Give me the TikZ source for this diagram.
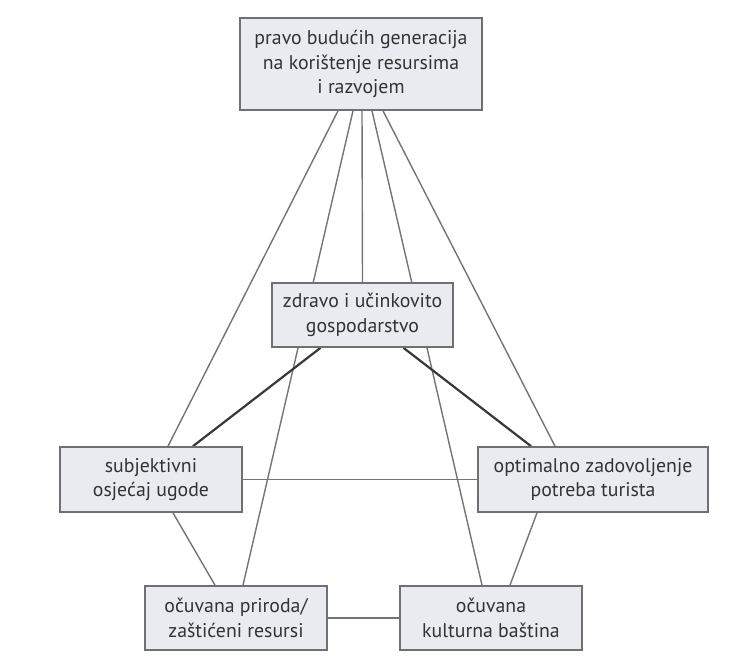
\documentclass[tikz,border=0pt]{standalone}
\usepackage{fontspec}
\setsansfont{PT Sans}
\usetikzlibrary{backgrounds}
\definecolor{boxfill}{HTML}{E9EBF1}
\definecolor{boxline}{HTML}{6E7074}
\definecolor{linkgray}{HTML}{747474}
\definecolor{textgray}{HTML}{333333}
\begin{document}
\begin{tikzpicture}[x=1pt,y=-1pt,
    box/.style={draw=boxline,line width=1.7pt,fill=boxfill,inner sep=2pt,
      align=center,text=textgray,font=\sffamily\fontsize{19.8}{24.5}\selectfont},
    link/.style={draw=linkgray,line width=1.4pt},
    strong link/.style={draw=black!78,line width=2.2pt}]
  \useasboundingbox (0,0) rectangle (750,670);

  \node[box,minimum width=242pt,minimum height=92pt] (buduce) at (361,64)
    {pravo budućih generacija\\na korištenje resursima\\i razvojem};
  \node[box,minimum width=181pt,minimum height=64pt] (gosp) at (362.5,315)
    {zdravo i učinkovito\\gospodarstvo};
  \node[box,minimum width=182pt,minimum height=65pt] (subj) at (151,479.5)
    {subjektivni\\osjećaj ugode};
  \node[box,minimum width=230pt,minimum height=65pt] (optim) at (593,479.5)
    {optimalno zadovoljenje\\potreba turista};
  \node[box,minimum width=182pt,minimum height=64pt] (priroda) at (236,618)
    {očuvana priroda/\\zaštićeni resursi};
  \node[box,minimum width=182pt,minimum height=64pt] (bastina) at (491,618)
    {očuvana\\kulturna baština};

  \begin{scope}[on background layer]
    % lines from the top box
    \draw[link] ([xshift=-23pt]buduce.south) -- ([xshift=17pt]subj.north);
    \draw[link] ([xshift=-8pt]buduce.south) -- ([xshift=7pt]priroda.north);
    \draw[link] ([xshift=1pt]buduce.south) -- (gosp.north);
    \draw[link] ([xshift=11pt]buduce.south) -- ([xshift=-9pt]bastina.north);
    \draw[link] ([xshift=22pt]buduce.south) -- ([xshift=-38pt]optim.north);
    % economy
    \draw[strong link] ([xshift=-42pt]gosp.south) -- ([xshift=42pt]subj.north);
    \draw[strong link] ([xshift=41pt]gosp.south) -- ([xshift=-62pt]optim.north);
    % lower triangle
    \draw[link] (subj.east) -- (optim.west);
    \draw[link] ([xshift=22pt]subj.south) -- ([xshift=-21pt]priroda.north);
    \draw[link] ([xshift=-56pt]optim.south) -- ([xshift=19pt]bastina.north);
    \draw[link] (priroda.east) -- (bastina.west);
  \end{scope}
\end{tikzpicture}
\end{document}
